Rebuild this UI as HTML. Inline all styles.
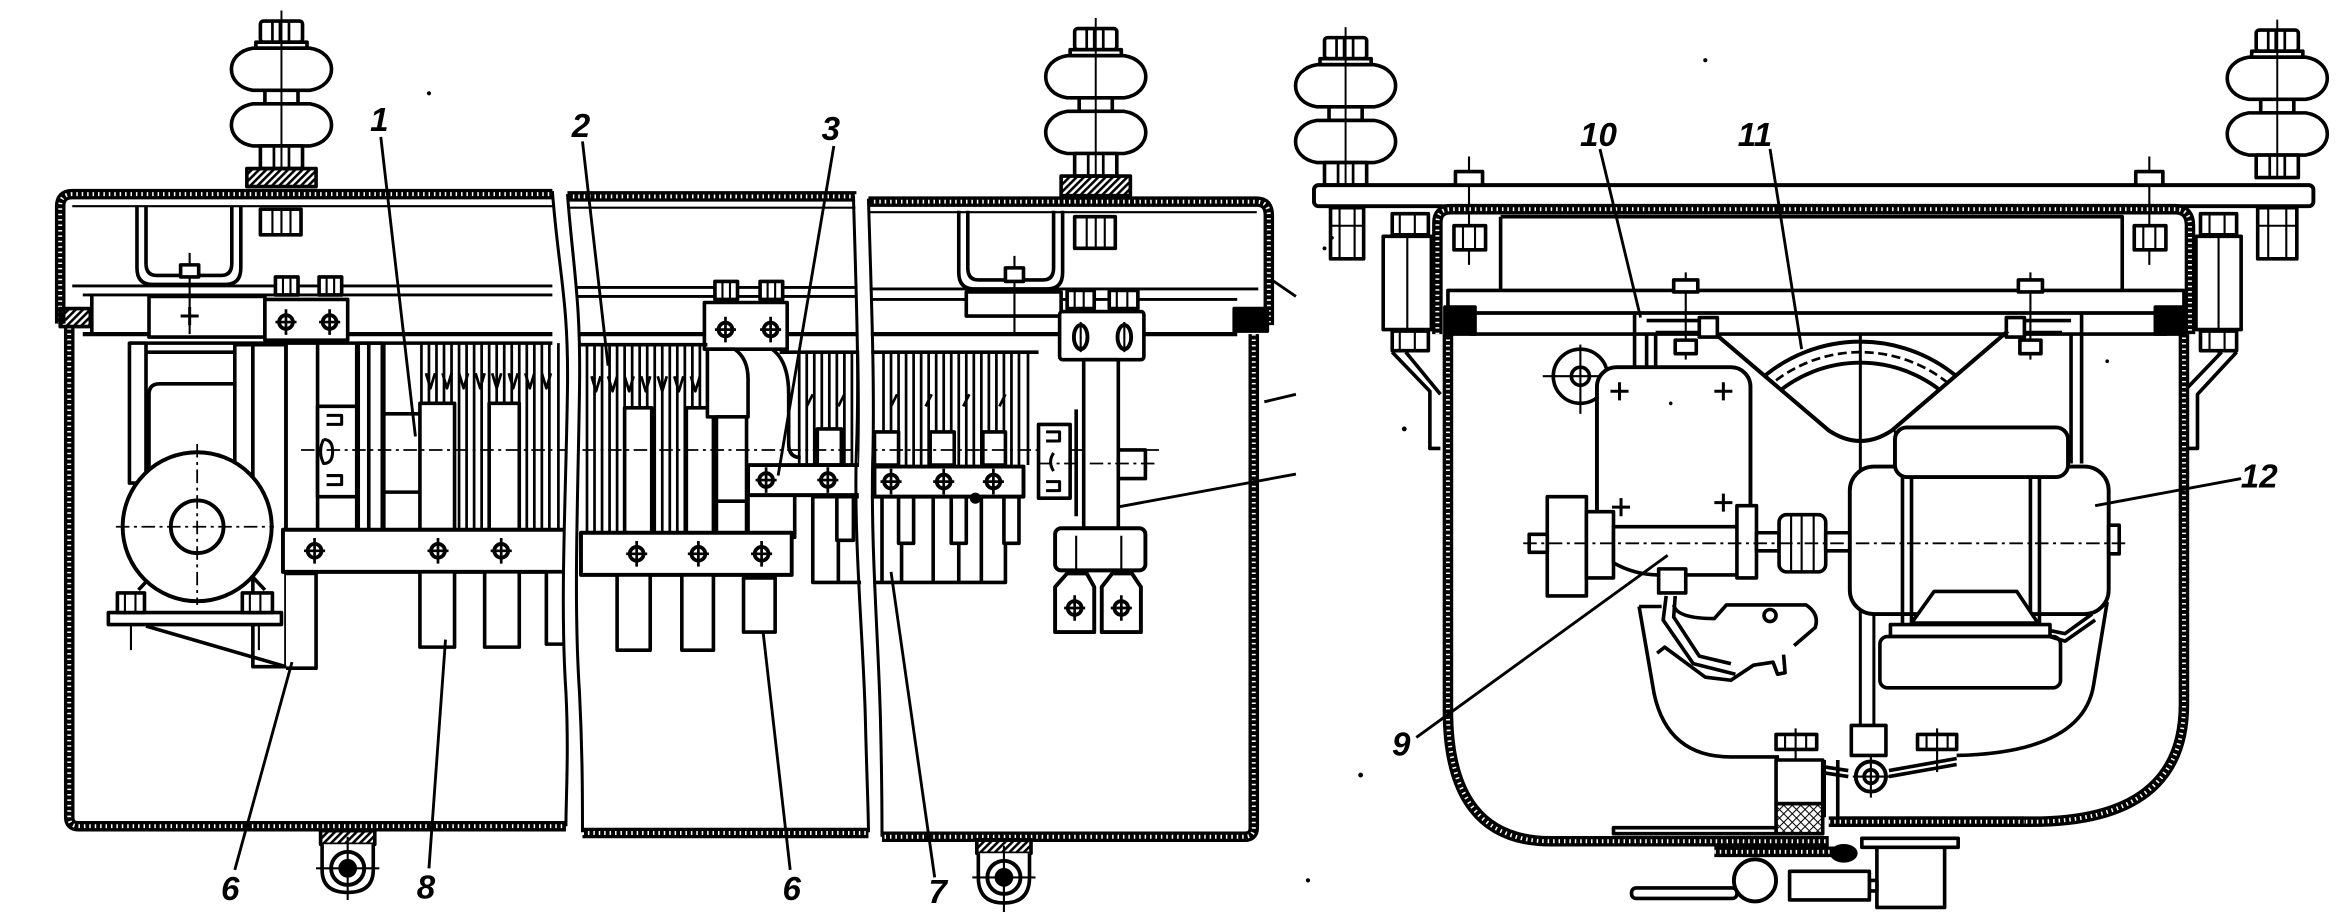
<!DOCTYPE html>
<html><head><meta charset="utf-8">
<style>
html,body{margin:0;padding:0;background:#fff;}
svg{display:block;}
text{font-family:"Liberation Sans",sans-serif;font-style:italic;font-weight:bold;font-size:22px;fill:#000;stroke:none;}
.hw{fill:none;stroke:#000;stroke-width:7;}
.hd{fill:none;stroke:#fff;stroke-width:2.6;stroke-dasharray:1 2.6;}
.t{stroke-width:1.4;}
.c{stroke-width:1.2;stroke-dasharray:9 3 2 3;}
.w{fill:#fff;}
</style></head><body>
<svg width="2348" height="912" viewBox="0 0 1560 606" preserveAspectRatio="none" xmlns="http://www.w3.org/2000/svg">
<defs>
<pattern id="h" width="3.4" height="3.4" patternUnits="userSpaceOnUse" patternTransform="rotate(45)"><rect width="1.7" height="3.4" fill="#000"/></pattern>
<pattern id="x" width="4" height="4" patternUnits="userSpaceOnUse" patternTransform="rotate(45)"><path d="M0,0H4M0,0V4" stroke="#000" stroke-width="1.4"/></pattern>
<g id="b" stroke="#000" fill="none"><circle r="4.6" fill="#fff" stroke-width="2.5"/><path d="M0,-8.5V8.5M-7,0H7" stroke-width="1.8"/></g>
<g id="p" stroke="#000" stroke-width="2" fill="none"><path d="M0,-6V6M-6,0H6"/></g>
<g id="bu" stroke="#000" stroke-width="2.4" fill="#fff">
 <rect x="-14" y="0" width="28" height="14" rx="2"/>
 <path d="M-6,0V14M-1,0V14M5,0V14" fill="none" stroke-width="1.8"/>
 <rect x="-17" y="14" width="34" height="4"/>
 <path d="M-19,18 H19 C38,21 38,43 19,46 H-19 C-38,43 -38,21 -19,18Z"/>
 <rect x="-11" y="46" width="22" height="9"/>
 <path d="M-19,55 H19 C38,58 38,80 19,83 H-19 C-38,80 -38,58 -19,55Z"/>
 <rect x="-14" y="83" width="28" height="15"/>
 <path d="M-5,83V98M5,83V98" fill="none" stroke-width="1.8"/>
 <path d="M0,-7V98" fill="none" stroke-width="1.3"/>
</g>
<clipPath id="vc"><polygon points="1120,200 1141,223 1215,286 1236,295 1257,286 1334,220 1350,200"/></clipPath>
</defs>
<rect width="1560" height="606" fill="#fff"/>

<g fill="none" stroke="#000" stroke-width="2.4" stroke-linejoin="round">

<!-- ================= LEFT DRAWING ================= -->
<use href="#bu" x="187" y="14"/>
<rect x="164" y="112" width="46" height="12" fill="url(#h)"/>
<rect x="173" y="139" width="27" height="17" class="w"/><path d="M181,139V156M187,139V156M193,139V156" class="t"/>
<use href="#bu" x="728" y="19"/>
<rect x="705" y="117" width="46" height="13" fill="url(#h)"/>
<rect x="714" y="144" width="27" height="21" class="w"/><path d="M722,144V165M728,144V165M734,144V165" class="t"/>

<path class="hw" d="M40,215 V137 Q40,129 48,129 H367"/><path class="hd" d="M40,215 V137 Q40,129 48,129 H367"/>
<path class="hw" d="M377,130.5 H569"/><path class="hd" d="M377,130.5 H569"/>
<path class="hw" d="M577,134 H835 Q843,134 843,143 V216"/><path class="hd" d="M577,134 H835 Q843,134 843,143 V216"/>
<path class="hw" d="M46,218 V543 Q46,549 52,549 H376"/><path class="hd" d="M46,218 V543 Q46,549 52,549 H376"/>
<path class="hw" d="M387,553.5 H577"/><path class="hd" d="M387,553.5 H577"/>
<path class="hw" d="M833,222 V550 Q833,556 827,556 H586"/><path class="hd" d="M833,222 V550 Q833,556 827,556 H586"/>
<rect x="40" y="205" width="20" height="12" fill="url(#h)"/>
<rect x="820" y="205" width="22" height="15" fill="#000"/>

<path d="M48,137H367M377,138H569M577,141H835" class="t"/>
<path d="M48,190H367M377,191H569M577,192H836" stroke-width="1.9"/>
<path d="M55,196H367M377,197H569M577,199H822" stroke-width="1.9"/>
<path d="M55,222H367M377,222H569M577,222H822" stroke-width="2.8"/>
<path d="M61,196V222"/>

<path d="M91,137 V178 Q91,189 101,189 H150 Q160,189 160,178 V137"/>
<path d="M97,137 V175 Q97,183 104,183 H147 Q154,183 154,175 V137"/>
<path d="M637,140 V181 Q637,192 647,192 H696 Q706,192 706,181 V140"/>
<path d="M643,140 V178 Q643,186 650,186 H693 Q700,186 700,178 V140"/>

<rect x="99" y="197" width="77" height="27" class="w"/>
<path d="M126,168V222" class="t"/><rect x="120" y="176" width="12" height="8" class="w"/>
<use href="#p" x="126" y="210"/>
<rect x="176" y="199" width="55" height="27" class="w"/>
<rect x="183" y="184" width="15" height="12" class="w"/><rect x="212" y="184" width="15" height="12" class="w"/>
<path d="M188,184V196M193,184V196M217,184V196M222,184V196" class="t"/>
<use href="#b" x="190" y="214"/><use href="#b" x="219" y="214"/>

<rect x="642" y="194" width="63" height="16" class="w"/>
<path d="M674,170V222" class="t"/><rect x="668" y="178" width="12" height="9" class="w"/>

<rect x="468" y="201" width="55" height="31" class="w"/>
<rect x="475" y="187" width="15" height="12" class="w"/><rect x="505" y="187" width="15" height="12" class="w"/>
<path d="M480,187V199M485,187V199M510,187V199M515,187V199" class="t"/>
<use href="#b" x="482" y="219"/><use href="#b" x="512" y="219"/>

<rect x="704" y="207" width="56" height="32" rx="2" class="w"/>
<rect x="709" y="193" width="18" height="12" class="w"/><rect x="737" y="193" width="19" height="12" class="w"/>
<path d="M714,193V205M720,193V205M742,193V205M749,193V205" class="t"/>
<ellipse cx="718" cy="224" rx="4.5" ry="8" stroke-width="2.6"/><ellipse cx="747" cy="224" rx="4.5" ry="8" stroke-width="2.6"/>
<path d="M718,214V234M747,214V234" class="t"/>

<!-- motor -->
<path d="M86,228H254"/>
<rect x="86" y="228" width="11" height="93" class="w"/>
<path d="M99,321 V262 Q99,255 106,255 H161 V308"/>
<path d="M97,234H156"/>
<rect x="156" y="229" width="12" height="125" class="w"/>
<rect x="168" y="229" width="22" height="214" class="w"/>
<path d="M190,229V381M211,229V352M237,229V352M254,229V352"/>
<rect x="211" y="270" width="26" height="60" class="w"/>
<path d="M217,276h10v6h-10M215,292q-4,8 0,16q6,0 6,-8q0,-8 -6,-8M217,316h10v6h-10" stroke-width="2"/>
<path d="M190,381 H210 V444 H190" class="w"/>
<path d="M97,416 L190,443" />
<path d="M92,392 L108,375 M176,392 L160,375"/>
<circle cx="131" cy="350" r="49.5" class="w" stroke-width="2.6"/>
<circle cx="131" cy="350" r="17.5" stroke-width="2.6"/>
<path d="M77,350H182M131,295V402" class="c"/>
<rect x="72" y="407" width="115" height="8" class="w"/>
<rect x="78" y="394" width="18" height="13" class="w"/><rect x="161" y="394" width="20" height="13" class="w"/>
<path d="M83,394V407M90,394V407M166,394V407M173,394V407M87,415V432M172,415V432" class="t"/>

<!-- contact combs -->
<path d="M238,228H367M377,229H470M518,234H690" />
<path d="M238,228V352M245,228V352M255,228V352M255,275H279M255,327H279" />
<path d="M280,228V352M285,228V352M290,228V352M295,228V352M300,228V352M305,228V352M310,228V352M315,228V352M320,228V352M325,228V352M330,228V352M335,228V352M340,228V352M345,228V352M350,228V352M355,228V352M360,228V352M365,228V352M371,228V352" stroke-width="1.8"/>
<path d="M390,229V354M395,229V354M400,229V354M405,229V354M410,229V354M415,229V354M420,229V354M425,229V354M430,229V354M435,229V354M440,229V354M445,229V354M450,229V354M455,229V354M460,229V354M465,229V354" stroke-width="1.8"/>
<path d="M531,234V309M536,234V309M541,234V309M546,234V309M551,234V309M556,234V309M561,234V309M566,234V309M571,234V309M587,234V309M592,234V309M597,234V309M602,234V309M607,234V309M612,234V309M617,234V309M622,234V309M627,234V309M632,234V309M637,234V309M642,234V309M647,234V309M652,234V309M657,234V309M662,234V309M667,234V309M672,234V309M677,234V309M683,234V309" stroke-width="1.8"/>
<path d="M283,248l3,10l3,-10M294,248l3,10l3,-10M305,248l3,10l3,-10M316,248l3,10l3,-10M327,248l3,10l3,-10M338,248l3,10l3,-10M349,248l3,10l3,-10M360,248l3,10l3,-10M393,250l3,10l3,-10M404,250l3,10l3,-10M415,250l3,10l3,-10M426,250l3,10l3,-10M437,250l3,10l3,-10M448,250l3,10l3,-10M459,250l3,10l3,-10M536,270l4,-8M557,270l4,-8M592,270l4,-8M615,270l4,-8M640,270l4,-8M664,270l4,-8" stroke-width="1.8"/>
<rect x="279" y="268" width="23" height="84" class="w"/>
<rect x="325" y="268" width="20" height="84" class="w"/>
<rect x="415" y="271" width="18" height="83" class="w"/>
<rect x="456" y="271" width="18" height="83" class="w"/>
<path d="M470,232 H488 Q497,238 497,252 V277 H470 Z" class="w"/>
<rect x="476" y="277" width="20" height="77" class="w"/><path d="M476,333H496"/>
<path d="M513,232 Q524,240 524,262 V295 Q524,304 532,304"/>
<rect x="543" y="285" width="16" height="24" class="w"/>
<rect x="581" y="287" width="16" height="22" class="w"/>
<rect x="618" y="287" width="16" height="22" class="w"/>
<rect x="653" y="287" width="15" height="22" class="w"/>
<rect x="540" y="330" width="128" height="57" class="w"/>
<path d="M557,330V387M586,330V387M599,330V387M620,330V387M637,330V387M652,330V387" />
<rect x="556" y="330" width="11" height="29" class="w"/>
<rect x="597" y="330" width="10" height="31" class="w"/>
<rect x="632" y="330" width="10" height="31" class="w"/>
<rect x="667" y="330" width="10" height="31" class="w"/>
<rect x="497" y="329" width="31" height="28" class="w"/>
<rect x="495" y="357" width="25" height="15" class="w"/>
<path d="M200,299H770" class="c"/>

<rect x="188" y="352" width="190" height="28" class="w" stroke-width="2.6"/>
<use href="#b" x="209" y="366"/><use href="#b" x="291" y="366"/><use href="#b" x="333" y="366"/>
<rect x="386" y="354" width="140" height="28" class="w" stroke-width="2.6"/>
<use href="#b" x="423" y="368"/><use href="#b" x="464" y="368"/><use href="#b" x="506" y="368"/>
<rect x="497" y="309" width="76" height="20" class="w" stroke-width="2.6"/>
<use href="#b" x="509" y="319"/><use href="#b" x="550" y="319"/>
<rect x="581" y="310" width="99" height="20" class="w" stroke-width="2.6"/>
<use href="#b" x="592" y="320"/><use href="#b" x="627" y="320"/><use href="#b" x="660" y="320"/>
<circle cx="648" cy="331" r="2.5" fill="#000"/>
<rect x="279" y="380" width="23" height="50" class="w"/>
<rect x="322" y="380" width="23" height="50" class="w"/>
<rect x="363" y="380" width="15" height="48" class="w"/>
<rect x="410" y="382" width="22" height="50" class="w"/>
<rect x="453" y="382" width="21" height="50" class="w"/>
<rect x="494" y="384" width="21" height="36" class="w"/>

<!-- right switch assembly -->
<rect x="720" y="239" width="23" height="112" class="w"/>
<path d="M715,272V343" />
<rect x="690" y="282" width="21" height="49" class="w"/>
<path d="M695,287h9v6h-9M695,320h9v6h-9M700,301q-4,6 0,12" stroke-width="2"/>
<rect x="743" y="299" width="18" height="19" class="w"/>
<path d="M690,308H770" class="c"/>
<rect x="701" y="351" width="60" height="28" rx="4" class="w" stroke-width="2.6"/>
<path d="M715,356V379M745,356V379" class="t"/>
<path d="M709,381 H722 L727,390 V420 H701 V390 Z" class="w" stroke-width="2.6"/>
<path d="M739,381 H752 L758,390 V420 H732 V390 Z" class="w" stroke-width="2.6"/>
<use href="#b" x="714" y="404"/><use href="#b" x="745" y="404"/>

<!-- break lines -->
<path d="M372,127 C376,180 382,200 381,260 C380,330 376,400 380,460 C382,500 381,530 381,551" stroke="#fff" stroke-width="8"/>
<path d="M572,129 C574,200 576,250 575,300 C573,360 579,430 580,480 C581,520 581,540 581,554" stroke="#fff" stroke-width="8"/>
<path d="M367,127 C371,180 378,200 377,260 C376,330 372,400 376,460 C378,500 376,530 376,549" stroke-width="2"/>
<path d="M377,129 C381,180 386,200 385,260 C384,330 381,400 385,460 C387,500 387,530 387,553" stroke-width="2"/>
<path d="M567,130 C569,200 571,250 569,300 C567,360 574,430 575,480 C576,520 577,540 577,553" stroke-width="2"/>
<path d="M577,132 C579,200 581,250 580,300 C578,360 584,430 585,480 C586,520 586,540 586,556" stroke-width="2"/>

<!-- feet -->
<rect x="213" y="552" width="36" height="9" fill="url(#h)"/>
<path d="M214,561 V578 Q214,593 231,593 Q248,593 248,578 V561" class="w"/>
<circle cx="231" cy="577" r="11" stroke-width="2.6"/><circle cx="231" cy="577" r="5" fill="#000"/>
<path d="M231,556V598M210,577H252" class="t"/>
<rect x="649" y="558" width="36" height="9" fill="url(#h)"/>
<path d="M650,567 V583 Q650,600 667,600 Q684,600 684,583 V567" class="w"/>
<circle cx="667" cy="583" r="11" stroke-width="2.6"/><circle cx="667" cy="583" r="5" fill="#000"/>
<path d="M667,562V606M646,583H688" class="t"/>

<!-- leaders left -->
<path d="M253,91 L276,290" stroke-width="1.9"/>
<path d="M387,94 L404,243" stroke-width="1.9"/>
<path d="M554,97 L517,316" stroke-width="1.9"/>
<path d="M156,578 L194,440" stroke-width="1.9"/>
<path d="M285,577 L296,425" stroke-width="1.9"/>
<path d="M525,578 L507,420" stroke-width="1.9"/>
<path d="M621,583 L592,380" stroke-width="1.9"/>
<path d="M861,315 L742,337" stroke-width="1.9"/>
<path d="M845,186 L861,197M840,267 L861,262" stroke-width="1.9"/>

<!-- ================= RIGHT DRAWING ================= -->
<use href="#bu" x="894" y="25"/>
<use href="#bu" x="1513" y="20"/>
<rect x="873" y="123" width="664" height="14" rx="3" class="w" stroke-width="2.6"/>
<rect x="884" y="138" width="22" height="34" class="w"/><path d="M890,138V172M900,138V172M884,150H906" class="t"/>
<rect x="1500" y="138" width="26" height="34" class="w"/><path d="M1507,138V172M1519,138V172M1500,150H1526" class="t"/>
<path d="M976,104V176M1428,104V176" class="t"/>
<rect x="967" y="114" width="18" height="9" class="w"/><rect x="966" y="150" width="21" height="16" class="w"/>
<path d="M972,150V166M980,150V166" class="t"/>
<rect x="1419" y="114" width="18" height="9" class="w"/><rect x="1418" y="150" width="21" height="16" class="w"/>
<path d="M1424,150V166M1432,150V166" class="t"/>

<path class="hw" d="M955,222 V148 Q955,139 964,139 H1445 Q1455,139 1455,150 V222"/>
<path class="hd" d="M955,222 V148 Q955,139 964,139 H1445 Q1455,139 1455,150 V222"/>
<path class="hw" d="M962,222 V472 Q962,559 1030,559 H1215 M1220,546 H1350 Q1451,546 1451,468 V222"/>
<path class="hd" d="M962,222 V472 Q962,559 1030,559 H1215 M1220,546 H1350 Q1451,546 1451,468 V222"/>
<path d="M997,144 H1410 V193 M997,144 V193"/>
<rect x="962" y="193" width="489" height="15" class="w"/>
<rect x="977" y="208" width="462" height="14" class="w"/>
<rect x="960" y="204" width="20" height="18" fill="#000"/>
<rect x="1432" y="204" width="20" height="18" fill="#000"/>
<rect x="919" y="157" width="32" height="62" class="w"/><path d="M935,145V236" class="t"/>
<rect x="925" y="142" width="24" height="14" class="w"/><rect x="925" y="220" width="24" height="13" class="w"/>
<path d="M930,142V156M940,142V156M930,220V233M940,220V233" class="t"/>
<path d="M925,234 L950,260 V298 H957 M934,234 L957,262"/>
<rect x="1459" y="157" width="30" height="62" class="w"/><path d="M1474,145V236" class="t"/>
<rect x="1462" y="142" width="24" height="14" class="w"/><rect x="1462" y="220" width="24" height="13" class="w"/>
<path d="M1468,142V156M1478,142V156M1468,220V233M1478,220V233" class="t"/>
<path d="M1486,234 L1460,262 V298 H1453 M1476,234 L1453,258"/>

<path d="M1086,209 V244 M1094,221 V244 M1094,213 H1140 M1100,221 H1140 M1100,221 V244"/>
<rect x="1129" y="211" width="12" height="13" class="w"/>
<path d="M1120,181V239" class="t"/>
<rect x="1112" y="186" width="16" height="8" class="w"/><rect x="1113" y="226" width="14" height="9" class="w"/>
<path d="M1383,209 V308 M1376,221 V308 M1376,213 H1333 M1370,221 H1333"/>
<rect x="1333" y="211" width="12" height="13" class="w"/>
<path d="M1349,181V239" class="t"/>
<rect x="1341" y="186" width="16" height="8" class="w"/><rect x="1342" y="226" width="14" height="9" class="w"/>

<g clip-path="url(#vc)">
<circle cx="1236" cy="327" r="100" stroke-width="2.6"/>
<circle cx="1236" cy="327" r="93" stroke-width="1.8" stroke-dasharray="6 3"/>
<circle cx="1236" cy="327" r="86" stroke-width="2.6"/>
</g>
<path d="M1141,223 L1215,286 Q1236,300 1257,286 L1334,220" stroke-width="2.7"/>
<path d="M1236,222 V503 M1245,408 V503" stroke-width="2"/>
<path d="M1259,286 V310" class="t"/>

<circle cx="1050" cy="250" r="18" class="w"/>
<circle cx="1050" cy="250" r="6"/>
<path d="M1025,250H1076M1050,229V275" class="t"/>
<rect x="1061" y="244" width="102" height="107" rx="13" class="w" stroke-width="2.6"/>
<use href="#p" x="1076" y="260"/><use href="#p" x="1145" y="260"/><use href="#p" x="1077" y="337"/><use href="#p" x="1145" y="334"/>

<rect x="1028" y="330" width="26" height="66" class="w"/>
<rect x="1054" y="340" width="18" height="44" class="w"/>
<path d="M1072,350 H1156 V382 H1102 Q1086,382 1072,374 Z" class="w"/>
<rect x="1154" y="336" width="13" height="48" class="w"/>
<rect x="1167" y="354" width="15" height="12" class="w"/>
<rect x="1182" y="342" width="31" height="38" rx="5" class="w"/>
<path d="M1190,342V380M1197,342V380M1205,342V380" class="t"/>
<rect x="1213" y="354" width="18" height="12" class="w"/>
<rect x="1102" y="378" width="18" height="16" class="w"/>
<rect x="1016" y="355" width="12" height="12" class="w"/>

<rect x="1229" y="310" width="172" height="98" rx="16" class="w" stroke-width="2.6"/>
<rect x="1259" y="284" width="115" height="33" rx="8" class="w" stroke-width="2.6"/>
<path d="M1264,317 V415 M1270,317 V415 M1349,317 V415 M1355,317 V415"/>
<rect x="1401" y="349" width="7" height="19" class="w"/>
<path d="M1012,361 H1415" class="c"/>
<polygon points="1270,414 1285,393 1340,393 1354,414" class="w"/>
<rect x="1256" y="415" width="106" height="8" class="w"/>
<rect x="1249" y="423" width="120" height="34" rx="5" class="w"/>
<path d="M1362,423 L1372,426 L1392,412 M1362,419 L1372,421 L1390,408"/>

<path d="M1089,403 H1104 M1089,403 L1099,461 Q1108,503 1150,503 H1182 M1300,502 Q1384,500 1391,455 L1400,400"/>
<path d="M1107,396 L1105,412 L1125,441 L1153,448 M1113,396 L1112,410 L1129,436 L1150,441"/>
<path d="M1112,402 Q1114,411 1139,411 L1147,402 H1200 Q1209,408 1206,417 L1192,429"/>
<circle cx="1176" cy="409" r="4"/>
<path d="M1101,434 L1106,430 L1133,450 L1150,452 L1165,442 L1178,440 L1181,448 L1186,447 L1185,435"/>

<rect x="1230" y="482" width="23" height="20" class="w"/>
<rect x="1180" y="488" width="27" height="10" class="w"/><rect x="1274" y="488" width="26" height="10" class="w"/>
<path d="M1186,488V498M1193,484V513M1200,488V498M1280,488V498M1287,484V513M1294,488V498" class="t"/>
<path d="M1182,505 L1228,512 M1182,509 L1228,516 M1255,512 L1300,504 M1255,516 L1300,508"/>
<circle cx="1243" cy="516" r="10" class="w" stroke-width="2.6"/><circle cx="1243" cy="516" r="4.5"/>
<path d="M1243,503V530M1231,516H1255" class="t"/>
<rect x="1180" y="505" width="31" height="29" class="w"/>
<rect x="1180" y="534" width="31" height="20" fill="url(#x)"/>
<path d="M1212,505 V543 M1221,505 V543"/>
<rect x="1072" y="550" width="108" height="4" class="w"/>
<path class="hw" d="M1215,546 H1345"/><path class="hd" d="M1215,546 H1345"/>
<path class="hw" d="M1139,566 H1222"/><path class="hd" d="M1139,566 H1222"/>
<ellipse cx="1225" cy="567" rx="8" ry="5" fill="#000"/>
<rect x="1237" y="557" width="64" height="6" class="w"/>
<rect x="1247" y="563" width="45" height="40" class="w"/>
<rect x="1242" y="585" width="5" height="7" class="w"/>
<rect x="1189" y="579" width="53" height="19" class="w"/>
<rect x="1084" y="590" width="70" height="7" rx="3" class="w"/>
<circle cx="1166" cy="585" r="14" class="w" stroke-width="2.6"/>

<path d="M1063,99 L1090,211" stroke-width="1.9"/>
<path d="M1176,99 L1197,232" stroke-width="1.9"/>
<path d="M1489,318 L1392,336" stroke-width="1.9"/>
<path d="M941,490 L1108,369" stroke-width="1.9"/>
</g>

<g fill="#000">
<circle cx="285" cy="62" r="1.4"/><circle cx="1133" cy="40" r="1.4"/><circle cx="933" cy="285" r="1.6"/>
<circle cx="904" cy="515" r="1.6"/><circle cx="869" cy="585" r="1.4"/><circle cx="880" cy="165" r="1.3"/>
<circle cx="885" cy="158" r="1.2"/><circle cx="1400" cy="240" r="1.2"/><circle cx="1110" cy="268" r="1.2"/>
</g>

<text x="252" y="87" text-anchor="middle">1</text>
<text x="386" y="91" text-anchor="middle">2</text>
<text x="552" y="93" text-anchor="middle">3</text>
<text x="153" y="598" text-anchor="middle">6</text>
<text x="283" y="597" text-anchor="middle">8</text>
<text x="526" y="598" text-anchor="middle">6</text>
<text x="623" y="600" text-anchor="middle">7</text>
<text x="1062" y="97" text-anchor="middle">10</text>
<text x="1166" y="97" text-anchor="middle">11</text>
<text x="1501" y="324" text-anchor="middle">12</text>
<text x="931" y="502" text-anchor="middle">9</text>
</svg>
</body></html>
